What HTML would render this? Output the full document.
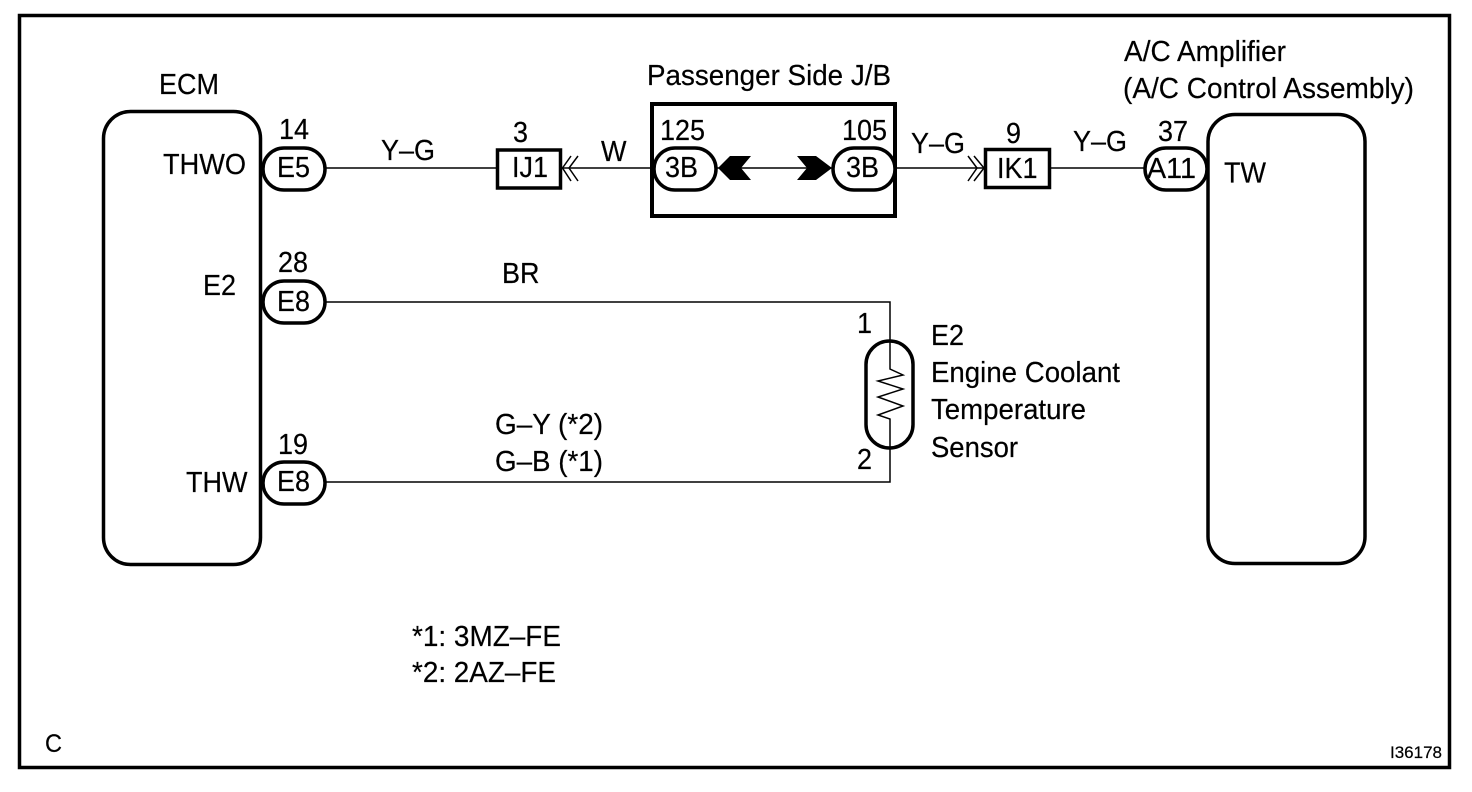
<!DOCTYPE html>
<html><head><meta charset="utf-8">
<style>
html,body{margin:0;padding:0;background:#fff;width:1472px;height:792px;overflow:hidden}
svg{display:block}
text{font-family:"Liberation Sans",sans-serif;font-size:28.5px;fill:#000;stroke:#000;stroke-width:.2}
.s{fill:none;stroke:#000;stroke-width:3.5}
.p{fill:#fff;stroke:#000;stroke-width:3.5}
.w{fill:none;stroke:#000;stroke-width:1.5}
</style></head><body>
<svg width="1472" height="792" viewBox="0 0 1472 792" xmlns="http://www.w3.org/2000/svg">
<rect x="19.5" y="15.5" width="1430" height="752" class="s"/>
<!-- wires -->
<path class="w" d="M326 168H496M562 168H652M717 168H832M895 168H984M1051 168H1144M326 302H890V369L903 375L878 381L903 389L878 397L903 406L878 415L890 419V482H326"/>
<path class="w" d="M571 156L562.500 168L571 181M578 156L569 168L578 181M968 156L977 168L968 181M974 156L984 168L974 181"/>
<!-- modules -->
<rect x="103.500" y="111.500" width="157" height="453" rx="27" class="s"/>
<rect x="1208" y="114.500" width="157" height="449" rx="27" class="s"/>
<rect x="652" y="104" width="243" height="112" fill="none" stroke="#000" stroke-width="4"/>
<rect x="497.500" y="150" width="63" height="38" class="s" style="fill:#fff"/>
<rect x="985.500" y="149.500" width="64" height="38" class="s" style="fill:#fff"/>
<!-- pills -->
<rect x="263" y="148" width="62" height="42" rx="21" class="p"/>
<rect x="263" y="281" width="62" height="42" rx="21" class="p"/>
<rect x="263" y="462" width="62" height="42" rx="21" class="p"/>
<rect x="654" y="148" width="62" height="42" rx="21" class="p"/>
<rect x="833" y="148" width="62" height="42" rx="21" class="p"/>
<rect x="1145" y="148" width="62" height="42" rx="21" class="p"/>
<rect x="866" y="341" width="47" height="107" rx="23.500" class="s"/>
<!-- black arrows -->
<path d="M718 168L730 156H751L741 168L751 180H730Z"/>
<path d="M797 156H816L832 168L816 180H797L807 168Z"/>
<!-- text -->
<text x="159" y="94" textLength="60" lengthAdjust="spacingAndGlyphs">ECM</text>
<text x="647" y="85" textLength="244" lengthAdjust="spacingAndGlyphs">Passenger Side J/B</text>
<text x="1124" y="61" textLength="162" lengthAdjust="spacingAndGlyphs">A/C Amplifier</text>
<text x="1123" y="98" textLength="291" lengthAdjust="spacingAndGlyphs">(A/C Control Assembly)</text>
<text x="279" y="139" textLength="30" lengthAdjust="spacingAndGlyphs">14</text>
<text x="163" y="174" textLength="83" lengthAdjust="spacingAndGlyphs">THWO</text>
<text x="277" y="177" textLength="33" lengthAdjust="spacingAndGlyphs">E5</text>
<text x="381" y="160" textLength="54" lengthAdjust="spacingAndGlyphs">Y–G</text>
<text x="513" y="142" textLength="15" lengthAdjust="spacingAndGlyphs">3</text>
<text x="512" y="177" textLength="36" lengthAdjust="spacingAndGlyphs">IJ1</text>
<text x="601" y="161" textLength="25.500" lengthAdjust="spacingAndGlyphs">W</text>
<text x="660" y="140" textLength="45" lengthAdjust="spacingAndGlyphs">125</text>
<text x="842" y="140" textLength="45" lengthAdjust="spacingAndGlyphs">105</text>
<text x="665" y="177" textLength="33" lengthAdjust="spacingAndGlyphs">3B</text>
<text x="846" y="177" textLength="33" lengthAdjust="spacingAndGlyphs">3B</text>
<text x="911" y="153" textLength="54" lengthAdjust="spacingAndGlyphs">Y–G</text>
<text x="1006" y="143" textLength="15" lengthAdjust="spacingAndGlyphs">9</text>
<text x="997" y="178" textLength="40.500" lengthAdjust="spacingAndGlyphs">IK1</text>
<text x="1073" y="151" textLength="54" lengthAdjust="spacingAndGlyphs">Y–G</text>
<text x="1158" y="141" textLength="30" lengthAdjust="spacingAndGlyphs">37</text>
<text x="1147" y="178" textLength="49" lengthAdjust="spacingAndGlyphs">A11</text>
<text x="1224" y="182.500" textLength="42" lengthAdjust="spacingAndGlyphs">TW</text>
<text x="203" y="295" textLength="33" lengthAdjust="spacingAndGlyphs">E2</text>
<text x="278" y="272" textLength="30" lengthAdjust="spacingAndGlyphs">28</text>
<text x="277" y="311" textLength="33" lengthAdjust="spacingAndGlyphs">E8</text>
<text x="502" y="283" textLength="37.500" lengthAdjust="spacingAndGlyphs">BR</text>
<text x="857" y="333" textLength="15" lengthAdjust="spacingAndGlyphs">1</text>
<text x="857" y="469" textLength="15" lengthAdjust="spacingAndGlyphs">2</text>
<text x="931" y="345" textLength="33" lengthAdjust="spacingAndGlyphs">E2</text>
<text x="931" y="382" textLength="189" lengthAdjust="spacingAndGlyphs">Engine Coolant</text>
<text x="931" y="419" textLength="155" lengthAdjust="spacingAndGlyphs">Temperature</text>
<text x="931" y="457" textLength="87" lengthAdjust="spacingAndGlyphs">Sensor</text>
<text x="278" y="454" textLength="30" lengthAdjust="spacingAndGlyphs">19</text>
<text x="186" y="492" textLength="61.500" lengthAdjust="spacingAndGlyphs">THW</text>
<text x="277" y="491" textLength="33" lengthAdjust="spacingAndGlyphs">E8</text>
<text x="495" y="434" textLength="108" lengthAdjust="spacingAndGlyphs">G–Y (*2)</text>
<text x="495" y="471" textLength="108" lengthAdjust="spacingAndGlyphs">G–B (*1)</text>
<text x="412" y="646" textLength="149" lengthAdjust="spacingAndGlyphs">*1: 3MZ–FE</text>
<text x="412" y="682" textLength="144" lengthAdjust="spacingAndGlyphs">*2: 2AZ–FE</text>
<text x="45" y="752" style="font-size:25px" textLength="17" lengthAdjust="spacingAndGlyphs">C</text>
<text x="1390" y="758" style="font-size:17px" textLength="52" lengthAdjust="spacingAndGlyphs">I36178</text>
</svg>
</body></html>
